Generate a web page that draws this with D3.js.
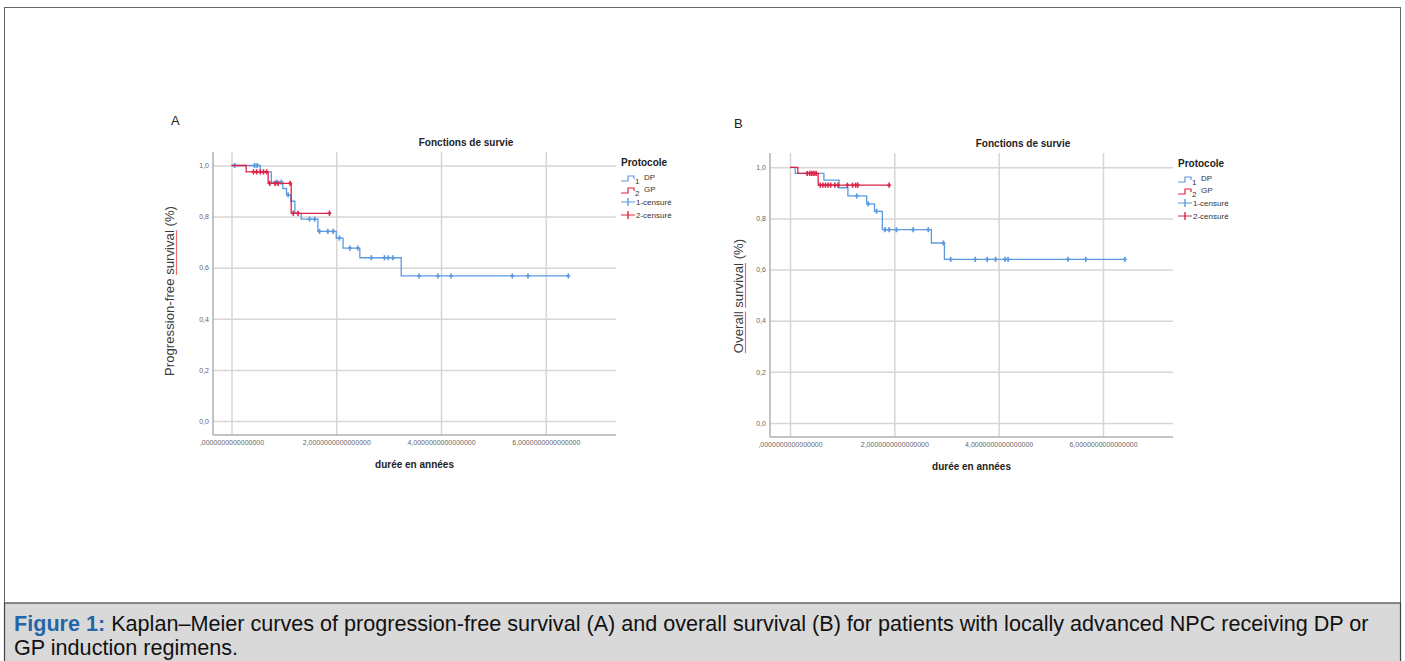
<!DOCTYPE html>
<html>
<head>
<meta charset="utf-8">
<script src="https://cdn.jsdelivr.net/npm/d3@7"></script>
<style>
  body { margin: 0; background: #fff; }
  svg { display: block; }
</style>
</head>
<body>
<svg id="fig" width="1405" height="661"></svg>
<script>
// --- data (years, survival proportion) ---
// step points: [time of event, survival after event]; first point is [0, 1]
const pfsDP = [[0, 1], [0.55, 0.975], [0.76, 0.935], [0.98, 0.91], [1.05, 0.885], [1.13, 0.86],
  [1.21, 0.813], [1.33, 0.79], [1.65, 0.742], [2.0, 0.716], [2.13, 0.677], [2.45, 0.639], [3.24, 0.568]];
const pfsDPCensored = [0.06, 0.44, 0.49, 0.86, 0.95, 1.08, 1.49, 1.59, 1.68, 1.84, 1.94, 2.06, 2.26, 2.41,
  2.67, 2.92, 2.99, 3.08, 3.58, 3.94, 4.19, 5.36, 5.66, 6.43];
const pfsGP = [[0, 1], [0.28, 0.975], [0.70, 0.93], [1.14, 0.813]];
const pfsGPCensored = [0.42, 0.48, 0.55, 0.61, 0.67, 0.73, 0.83, 0.89, 1.12, 1.18, 1.27, 1.87];

const osDP = [[0, 1], [0.1, 0.976], [0.65, 0.95], [0.94, 0.92], [1.11, 0.888], [1.47, 0.857],
  [1.62, 0.828], [1.77, 0.756], [2.71, 0.704], [2.96, 0.64]];
const osDPCensored = [1.28, 1.5, 1.66, 1.82, 1.90, 2.04, 2.36, 2.65, 2.94, 3.08, 3.55, 3.78, 3.94,
  4.12, 4.18, 5.33, 5.67, 6.42];
const osGP = [[0, 1], [0.15, 0.976], [0.54, 0.93]];
const osGPCensored = [0.33, 0.38, 0.42, 0.46, 0.5, 0.58, 0.63, 0.68, 0.73, 0.78, 0.86, 0.92,
  1.1, 1.2, 1.26, 1.3, 1.9];

const xTicks = [0, 2, 4, 6];
const xTickLabels = [",0000000000000000", "2,0000000000000000", "4,0000000000000000", "6,0000000000000000"];
const yTicks = [0, 0.2, 0.4, 0.6, 0.8, 1.0];
const yTickLabels = ["0,0", "0,2", "0,4", "0,6", "0,8", "1,0"];
const legendItems = ["DP", "GP", "1-censuré", "2-censuré"];

const BLUE = "#5c9ae0", RED = "#dc2448";
const FONT = "'Liberation Sans', Arial, sans-serif";

const svg = d3.select("#fig");

// figure frame + caption band
svg.append("rect").attr("x", 4.5).attr("y", 7.5).attr("width", 1396).attr("height", 660)
  .attr("fill", "#fff").attr("stroke", "#666").attr("stroke-width", 1);
svg.append("rect").attr("x", 4.5).attr("y", 603).attr("width", 1396).attr("height", 60)
  .attr("fill", "#d9d9d9").attr("stroke", "#444").attr("stroke-width", 1.2);

const cap = svg.append("text").attr("font-family", FONT).attr("font-size", 21.6).attr("fill", "#111");
const l1 = cap.append("tspan").attr("x", 14).attr("y", 631);
l1.append("tspan").attr("font-weight", "bold").attr("fill", "#2566a8").text("Figure 1:");
l1.append("tspan").text(" Kaplan–Meier curves of progression-free survival (A) and overall survival (B) for patients with locally advanced NPC receiving DP or");
cap.append("tspan").attr("x", 14).attr("y", 655).text("GP induction regimens.");

function drawPanel(p) {
  const g = svg.append("g");
  const x = d3.scaleLinear().domain([0, 6]).range([p.x0, p.x6]);
  const y = d3.scaleLinear().domain([0, 1]).range([p.y0, p.y1]);

  // gridlines via axes
  const yAxis = d3.axisLeft(y).tickValues(yTicks).tickSize(-(p.right - p.left)).tickPadding(4)
    .tickFormat((d, i) => yTickLabels[i]);
  const ya = g.append("g").attr("transform", `translate(${p.left},0)`).call(yAxis);
  const xAxis = d3.axisBottom(x).tickValues(xTicks).tickSize(-(p.bottom - p.top)).tickPadding(5)
    .tickFormat((d, i) => xTickLabels[i]);
  const xa = g.append("g").attr("transform", `translate(0,${p.bottom})`).call(xAxis);
  [ya, xa].forEach(a => {
    a.select(".domain").remove();
    a.selectAll(".tick line").attr("stroke", "#d6d6d6").attr("stroke-width", 1.5);
    a.selectAll(".tick text").attr("font-family", FONT).attr("font-size", 7).attr("fill", "#666");
  });

  // axis lines
  g.append("line").attr("x1", p.left).attr("x2", p.left).attr("y1", p.top).attr("y2", p.bottom)
    .attr("stroke", "#b0b0b0").attr("stroke-width", 1.5);
  g.append("line").attr("x1", p.left).attr("x2", p.right).attr("y1", p.bottom).attr("y2", p.bottom)
    .attr("stroke", "#b0b0b0").attr("stroke-width", 1.5);

  const line = d3.line().x(d => x(d[0])).y(d => y(d[1])).curve(d3.curveStepAfter);
  const survAt = (steps, t) => {
    let s = 1;
    steps.forEach(d => { if (d[0] <= t) s = d[1]; });
    return s;
  };

  p.series.forEach(s => {
    const end = d3.max(s.censored);
    const pts = s.steps.concat([[end, s.steps[s.steps.length - 1][1]]]);
    g.append("path").attr("d", line(pts)).attr("fill", "none")
      .attr("stroke", s.color).attr("stroke-width", 1.3);
    const cg = g.append("g").attr("stroke", s.color).attr("stroke-width", 1.6);
    s.censored.forEach(t => {
      const cx = x(t), cy = y(survAt(s.steps, t));
      cg.append("line").attr("x1", cx).attr("x2", cx).attr("y1", cy - 2.6).attr("y2", cy + 2.6);
      cg.append("line").attr("x1", cx - 2).attr("x2", cx + 2).attr("y1", cy).attr("y2", cy);
    });
  });

  // titles
  g.append("text").attr("x", p.labelX).attr("y", p.labelY).attr("font-family", FONT)
    .attr("font-size", 13).attr("fill", "#222").text(p.label);
  g.append("text").attr("x", p.titleX).attr("y", p.top - 6).attr("text-anchor", "middle")
    .attr("font-family", FONT).attr("font-size", 10).attr("font-weight", "bold").attr("fill", "#222")
    .text("Fonctions de survie");
  g.append("text").attr("x", (p.left + p.right) / 2).attr("y", p.bottom + 33).attr("text-anchor", "middle")
    .attr("font-family", FONT).attr("font-size", 10).attr("font-weight", "bold").attr("fill", "#222")
    .text("durée en années");

  // y label with red spell-check underline
  const yl = g.append("g").attr("transform", `translate(${p.ylabX},${p.ylabY}) rotate(-90)`);
  const yt = yl.append("text").attr("text-anchor", "middle").attr("font-family", FONT)
    .attr("font-size", 13.2).attr("fill", "#3a3a3a").text(p.ylabel);
  const node = yt.node();
  const total = node.getComputedTextLength();
  p.underline.forEach(word => {
    const idx = p.ylabel.indexOf(word);
    const x0 = node.getSubStringLength(0, idx) - total / 2;
    const w = node.getSubStringLength(idx, word.length);
    yl.append("line").attr("x1", x0).attr("x2", x0 + w).attr("y1", 2.5).attr("y2", 2.5)
      .attr("stroke", "#f06a6a").attr("stroke-width", 1.2);
  });

  // legend
  const lg = g.append("g").attr("transform", `translate(${p.legX},${p.legY})`)
    .attr("font-family", FONT);
  lg.append("text").attr("x", 0).attr("y", 0).attr("font-size", 10).attr("font-weight", "bold")
    .attr("fill", "#222").text("Protocole");
  const rowY = [14, 26, 39, 52];
  const colors = [BLUE, RED, BLUE, RED];
  legendItems.forEach((name, i) => {
    const ry = rowY[i], c = colors[i];
    if (i < 2) {
      lg.append("path").attr("d", `M0,${ry + 1} H7 V${ry - 4} H13 V${ry - 1}`)
        .attr("fill", "none").attr("stroke", c).attr("stroke-width", 1.2);
      lg.append("text").attr("x", 14).attr("y", ry + 4).attr("font-size", 8).attr("fill", "#333")
        .text(i + 1);
      lg.append("text").attr("x", 23).attr("y", ry).attr("font-size", 8).attr("fill", "#333").text(name);
    } else {
      lg.append("line").attr("x1", 0).attr("x2", 14).attr("y1", ry - 3).attr("y2", ry - 3)
        .attr("stroke", c).attr("stroke-width", 1);
      lg.append("line").attr("x1", 7).attr("x2", 7).attr("y1", ry - 7).attr("y2", ry + 1)
        .attr("stroke", c).attr("stroke-width", 1.4);
      lg.append("text").attr("x", 15).attr("y", ry).attr("font-size", 8).attr("fill", "#333").text(name);
    }
  });
}

drawPanel({
  left: 213, right: 616, top: 152, bottom: 435,
  x0: 231.5, x6: 545.8, y0: 421, y1: 165.5,
  label: "A", labelX: 171, labelY: 125, titleX: 466,
  ylabel: "Progression-free survival (%)", underline: ["survival"], ylabX: 174, ylabY: 291,
  legX: 621, legY: 166,
  series: [
    { steps: pfsDP, censored: pfsDPCensored, color: BLUE },
    { steps: pfsGP, censored: pfsGPCensored, color: RED }
  ]
});

drawPanel({
  left: 770, right: 1173, top: 153, bottom: 437,
  x0: 790, x6: 1103, y0: 423, y1: 167.3,
  label: "B", labelX: 734, labelY: 128, titleX: 1023,
  ylabel: "Overall survival (%)", underline: ["Overall", "survival"], ylabX: 743, ylabY: 296,
  legX: 1178, legY: 167,
  series: [
    { steps: osDP, censored: osDPCensored, color: BLUE },
    { steps: osGP, censored: osGPCensored, color: RED }
  ]
});
</script>
</body>
</html>
